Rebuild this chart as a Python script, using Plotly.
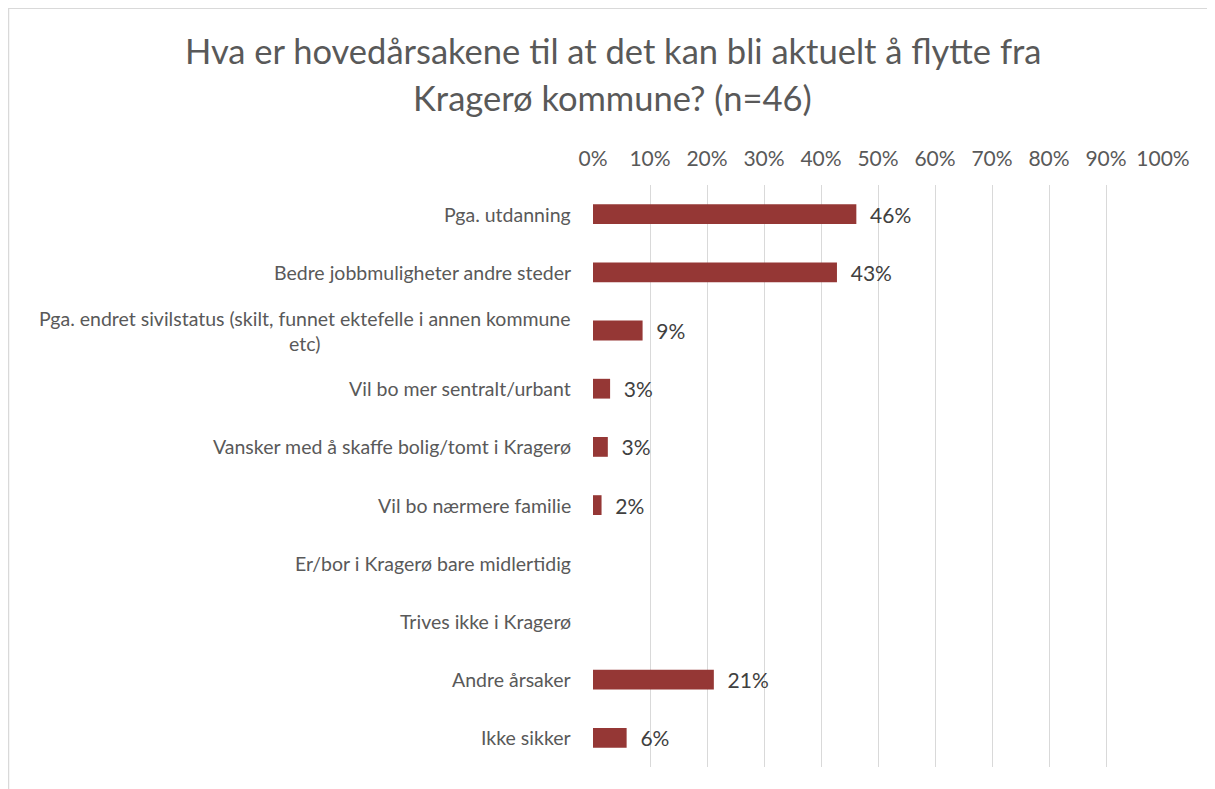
import plotly.graph_objects as go

categories = [
    "Pga. utdanning",
    "Bedre jobbmuligheter andre steder",
    "Pga. endret sivilstatus (skilt, funnet ektefelle i annen kommune<br>etc)",
    "Vil bo mer sentralt/urbant",
    "Vansker med å skaffe bolig/tomt i Kragerø",
    "Vil bo nærmere familie",
    "Er/bor i Kragerø bare midlertidig",
    "Trives ikke i Kragerø",
    "Andre årsaker",
    "Ikke sikker",
]
values = [0.462, 0.428, 0.087, 0.030, 0.026, 0.015, 0.0, 0.0, 0.212, 0.059]
tick_vals = [i / 10 for i in range(11)]
tick_text = [f"{i * 10}%" for i in range(11)]
title_lines = [
    "Hva er hovedårsakene til at det kan bli aktuelt å flytte fra",
    "Kragerø kommune? (n=46)",
]

labels = [f"\u00a0\u00a0{round(v * 100)}%" if v > 0 else "" for v in values]

# page body has an 8px margin; work in screenshot pixels and convert
OFF = 8
W, H = 1215 - OFF, 789 - OFF
PLOT_L, PLOT_R, PLOT_T, PLOT_B = 593, 1163, 184.5, 767.5  # screenshot px
L = PLOT_L - OFF
R = W - (PLOT_R - OFF)
T = PLOT_T - OFF
B = H - (PLOT_B - OFF)
PW, PH = W - L - R, H - T - B


def px_x(px):
    return (px - OFF - L) / PW


def px_y(py):
    return (H - B - (py - OFF)) / PH


FONT = "Lato"
GRAY = "#595959"

fig = go.Figure(
    go.Bar(
        x=values,
        y=categories,
        orientation="h",
        width=0.34,
        marker=dict(color="#953735", line=dict(width=0)),
        text=labels,
        textposition="outside",
        textfont=dict(family=FONT, size=21, color="#404040"),
        cliponaxis=False,
        constraintext="none",
    )
)

annotations = []
for c in categories:
    annotations.append(
        dict(
            x=0, xref="paper", y=c, yref="y",
            text=c, showarrow=False, xanchor="right", yanchor="middle",
            align="center", xshift=-20,
            font=dict(family=FONT, size=19.5, color=GRAY),
        )
    )
for line, py in zip(title_lines, [50, 97]):
    annotations.append(
        dict(
            x=px_x(612.5), xref="paper", y=px_y(py), yref="paper",
            text=line, showarrow=False, xanchor="center", yanchor="middle",
            font=dict(family=FONT, size=34.5, color=GRAY),
        )
    )

fig.update_layout(
    width=W,
    height=H,
    margin=dict(l=L, r=R, t=T, b=B, pad=0),
    paper_bgcolor="white",
    plot_bgcolor="white",
    showlegend=False,
    annotations=annotations,
    shapes=[
        dict(
            type="rect", xref="paper", yref="paper",
            x0=px_x(8.5), x1=px_x(1240), y0=px_y(820), y1=px_y(7.5),
            line=dict(color="#d9d9d9", width=1.5), layer="below",
        )
    ],
    xaxis=dict(
        side="top",
        range=[0, 1],
        tickvals=tick_vals,
        ticktext=tick_text,
        showgrid=True,
        gridcolor="#d9d9d9",
        gridwidth=1,
        zeroline=False,
        showline=False,
        ticks="",
        ticklabelstandoff=14,
        tickfont=dict(family=FONT, size=21, color=GRAY),
        fixedrange=True,
    ),
    yaxis=dict(
        autorange="reversed",
        showticklabels=False,
        showgrid=False,
        zeroline=False,
        showline=False,
        ticks="",
        fixedrange=True,
    ),
)

fig.write_html("out.html")
